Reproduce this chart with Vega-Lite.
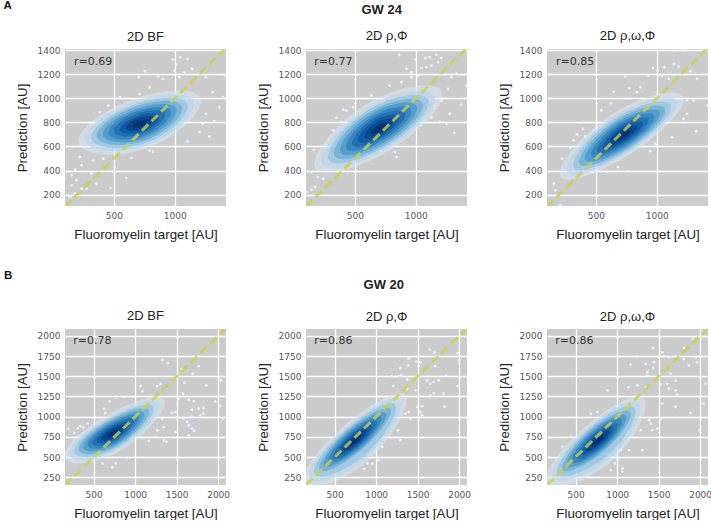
{
"$schema":"https://vega.github.io/schema/vega-lite/v6.json",
"padding":{"left":3,"top":0,"right":0,"bottom":0},
"background":"white",
"config":{
"view":{"fill":"#cbcbcb","stroke":null},
"axis":{"grid":true,"gridColor":"#ffffff","gridWidth":1.3,"domain":false,"ticks":false,"labelColor":"#555555","labelFont":"DejaVu Sans","labelFontSize":9,"labelPadding":5,"titleFont":"Liberation Sans","titleFontSize":13.3,"titleFontWeight":"normal","titleColor":"#222222","format":"d"},
"axisX":{"titlePadding":7},
"axisY":{"titlePadding":8},
"title":{"font":"Liberation Sans","fontSize":13,"fontWeight":"normal","color":"#222222","offset":3}
},
"datasets":{
"diagA":[{"x":100,"y":100},{"x":1420,"y":1420}],
"diagB":[{"x":155,"y":155},{"x":2095,"y":2095}],
"tA1":[{"x":173,"y":1300,"t":"r=0.69"}],
"tA2":[{"x":168,"y":1300,"t":"r=0.77"}],
"tA3":[{"x":174,"y":1300,"t":"r=0.85"}],
"tB1":[{"x":255,"y":1941,"t":"r=0.78"}],
"tB2":[{"x":255,"y":1941,"t":"r=0.86"}],
"tB3":[{"x":255,"y":1941,"t":"r=0.86"}],
"lA":[{"x":-405,"y":1767,"t":"A"}],
"lB":[{"x":-580,"y":2740,"t":"B"}],
"cA1":[
{"l":0,"i":0,"x":213,"y":624},{"l":0,"i":1,"x":639,"y":985},{"l":0,"i":2,"x":1211,"y":998},{"l":0,"i":3,"x":785,"y":590},
{"l":1,"i":0,"x":268,"y":642},{"l":1,"i":1,"x":647,"y":963},{"l":1,"i":2,"x":1156,"y":974},{"l":1,"i":3,"x":777,"y":612},
{"l":2,"i":0,"x":319,"y":659},{"l":2,"i":1,"x":654,"y":943},{"l":2,"i":2,"x":1105,"y":953},{"l":2,"i":3,"x":770,"y":632},
{"l":3,"i":0,"x":365,"y":674},{"l":3,"i":1,"x":661,"y":925},{"l":3,"i":2,"x":1059,"y":934},{"l":3,"i":3,"x":763,"y":651},
{"l":4,"i":0,"x":412,"y":689},{"l":4,"i":1,"x":668,"y":906},{"l":4,"i":2,"x":1012,"y":914},{"l":4,"i":3,"x":756,"y":669},
{"l":5,"i":0,"x":458,"y":704},{"l":5,"i":1,"x":675,"y":888},{"l":5,"i":2,"x":966,"y":895},{"l":5,"i":3,"x":749,"y":687},
{"l":6,"i":0,"x":504,"y":720},{"l":6,"i":1,"x":681,"y":870},{"l":6,"i":2,"x":920,"y":875},{"l":6,"i":3,"x":743,"y":706},
{"l":7,"i":0,"x":550,"y":735},{"l":7,"i":1,"x":688,"y":852},{"l":7,"i":2,"x":874,"y":856},{"l":7,"i":3,"x":736,"y":724},
{"l":8,"i":0,"x":596,"y":750},{"l":8,"i":1,"x":695,"y":834},{"l":8,"i":2,"x":828,"y":837},{"l":8,"i":3,"x":729,"y":742},
{"l":9,"i":0,"x":652,"y":768},{"l":9,"i":1,"x":703,"y":812},{"l":9,"i":2,"x":772,"y":813},{"l":9,"i":3,"x":721,"y":764}],
"cA2":[
{"l":0,"i":0,"x":176,"y":417},{"l":0,"i":1,"x":586,"y":943},{"l":0,"i":2,"x":1207,"y":1060},{"l":0,"i":3,"x":804,"y":579},
{"l":1,"i":0,"x":234,"y":454},{"l":1,"i":1,"x":598,"y":922},{"l":1,"i":2,"x":1150,"y":1026},{"l":1,"i":3,"x":792,"y":598},
{"l":2,"i":0,"x":288,"y":488},{"l":2,"i":1,"x":610,"y":902},{"l":2,"i":2,"x":1099,"y":994},{"l":2,"i":3,"x":782,"y":616},
{"l":3,"i":0,"x":336,"y":519},{"l":3,"i":1,"x":620,"y":884},{"l":3,"i":2,"x":1052,"y":965},{"l":3,"i":3,"x":772,"y":631},
{"l":4,"i":0,"x":385,"y":550},{"l":4,"i":1,"x":631,"y":866},{"l":4,"i":2,"x":1005,"y":937},{"l":4,"i":3,"x":762,"y":647},
{"l":5,"i":0,"x":433,"y":581},{"l":5,"i":1,"x":642,"y":848},{"l":5,"i":2,"x":958,"y":908},{"l":5,"i":3,"x":753,"y":663},
{"l":6,"i":0,"x":482,"y":611},{"l":6,"i":1,"x":652,"y":831},{"l":6,"i":2,"x":911,"y":879},{"l":6,"i":3,"x":743,"y":679},
{"l":7,"i":0,"x":530,"y":642},{"l":7,"i":1,"x":663,"y":813},{"l":7,"i":2,"x":864,"y":850},{"l":7,"i":3,"x":734,"y":695},
{"l":8,"i":0,"x":579,"y":673},{"l":8,"i":1,"x":673,"y":795},{"l":8,"i":2,"x":817,"y":822},{"l":8,"i":3,"x":724,"y":710},
{"l":9,"i":0,"x":637,"y":710},{"l":9,"i":1,"x":686,"y":773},{"l":9,"i":2,"x":761,"y":787},{"l":9,"i":3,"x":712,"y":729}],
"cA3":[
{"l":0,"i":0,"x":212,"y":347},{"l":0,"i":1,"x":617,"y":855},{"l":0,"i":2,"x":1216,"y":1019},{"l":0,"i":3,"x":811,"y":555},
{"l":1,"i":0,"x":269,"y":386},{"l":1,"i":1,"x":629,"y":837},{"l":1,"i":2,"x":1162,"y":983},{"l":1,"i":3,"x":802,"y":570},
{"l":2,"i":0,"x":321,"y":421},{"l":2,"i":1,"x":640,"y":821},{"l":2,"i":2,"x":1112,"y":950},{"l":2,"i":3,"x":793,"y":584},
{"l":3,"i":0,"x":369,"y":453},{"l":3,"i":1,"x":650,"y":806},{"l":3,"i":2,"x":1066,"y":920},{"l":3,"i":3,"x":785,"y":597},
{"l":4,"i":0,"x":416,"y":486},{"l":4,"i":1,"x":660,"y":791},{"l":4,"i":2,"x":1021,"y":890},{"l":4,"i":3,"x":777,"y":610},
{"l":5,"i":0,"x":464,"y":518},{"l":5,"i":1,"x":670,"y":776},{"l":5,"i":2,"x":975,"y":860},{"l":5,"i":3,"x":769,"y":623},
{"l":6,"i":0,"x":511,"y":550},{"l":6,"i":1,"x":680,"y":762},{"l":6,"i":2,"x":930,"y":830},{"l":6,"i":3,"x":761,"y":636},
{"l":7,"i":0,"x":559,"y":582},{"l":7,"i":1,"x":690,"y":747},{"l":7,"i":2,"x":884,"y":800},{"l":7,"i":3,"x":753,"y":649},
{"l":8,"i":0,"x":606,"y":614},{"l":8,"i":1,"x":700,"y":732},{"l":8,"i":2,"x":839,"y":770},{"l":8,"i":3,"x":745,"y":662},
{"l":9,"i":0,"x":663,"y":653},{"l":9,"i":1,"x":712,"y":714},{"l":9,"i":2,"x":784,"y":734},{"l":9,"i":3,"x":735,"y":678}],
"cB1":[
{"l":0,"i":0,"x":152,"y":481},{"l":0,"i":1,"x":616,"y":991},{"l":0,"i":2,"x":1352,"y":1213},{"l":0,"i":3,"x":839,"y":592},
{"l":1,"i":0,"x":216,"y":515},{"l":1,"i":1,"x":628,"y":969},{"l":1,"i":2,"x":1283,"y":1166},{"l":1,"i":3,"x":827,"y":614},
{"l":2,"i":0,"x":275,"y":547},{"l":2,"i":1,"x":639,"y":948},{"l":2,"i":2,"x":1219,"y":1123},{"l":2,"i":3,"x":815,"y":635},
{"l":3,"i":0,"x":328,"y":576},{"l":3,"i":1,"x":650,"y":930},{"l":3,"i":2,"x":1161,"y":1084},{"l":3,"i":3,"x":805,"y":653},
{"l":4,"i":0,"x":381,"y":604},{"l":4,"i":1,"x":660,"y":911},{"l":4,"i":2,"x":1103,"y":1045},{"l":4,"i":3,"x":795,"y":671},
{"l":5,"i":0,"x":434,"y":633},{"l":5,"i":1,"x":670,"y":893},{"l":5,"i":2,"x":1045,"y":1006},{"l":5,"i":3,"x":784,"y":690},
{"l":6,"i":0,"x":488,"y":662},{"l":6,"i":1,"x":681,"y":874},{"l":6,"i":2,"x":988,"y":967},{"l":6,"i":3,"x":774,"y":708},
{"l":7,"i":0,"x":541,"y":691},{"l":7,"i":1,"x":691,"y":856},{"l":7,"i":2,"x":930,"y":928},{"l":7,"i":3,"x":763,"y":727},
{"l":8,"i":0,"x":594,"y":719},{"l":8,"i":1,"x":701,"y":837},{"l":8,"i":2,"x":872,"y":889},{"l":8,"i":3,"x":753,"y":745},
{"l":9,"i":0,"x":658,"y":754},{"l":9,"i":1,"x":714,"y":815},{"l":9,"i":2,"x":802,"y":842},{"l":9,"i":3,"x":741,"y":767}],
"cB2":[
{"l":0,"i":0,"x":129,"y":178},{"l":0,"i":1,"x":610,"y":883},{"l":0,"i":2,"x":1360,"y":1264},{"l":0,"i":3,"x":880,"y":440},
{"l":1,"i":0,"x":198,"y":237},{"l":1,"i":1,"x":625,"y":864},{"l":1,"i":2,"x":1291,"y":1202},{"l":1,"i":3,"x":870,"y":480},
{"l":2,"i":0,"x":260,"y":291},{"l":2,"i":1,"x":639,"y":846},{"l":2,"i":2,"x":1229,"y":1146},{"l":2,"i":3,"x":860,"y":520},
{"l":3,"i":0,"x":317,"y":340},{"l":3,"i":1,"x":651,"y":830},{"l":3,"i":2,"x":1172,"y":1095},{"l":3,"i":3,"x":831,"y":597},
{"l":4,"i":0,"x":374,"y":390},{"l":4,"i":1,"x":664,"y":814},{"l":4,"i":2,"x":1115,"y":1043},{"l":4,"i":3,"x":820,"y":612},
{"l":5,"i":0,"x":431,"y":439},{"l":5,"i":1,"x":676,"y":798},{"l":5,"i":2,"x":1058,"y":992},{"l":5,"i":3,"x":808,"y":627},
{"l":6,"i":0,"x":488,"y":488},{"l":6,"i":1,"x":689,"y":782},{"l":6,"i":2,"x":1001,"y":941},{"l":6,"i":3,"x":797,"y":642},
{"l":7,"i":0,"x":545,"y":537},{"l":7,"i":1,"x":701,"y":766},{"l":7,"i":2,"x":944,"y":890},{"l":7,"i":3,"x":785,"y":657},
{"l":8,"i":0,"x":602,"y":587},{"l":8,"i":1,"x":714,"y":750},{"l":8,"i":2,"x":887,"y":838},{"l":8,"i":3,"x":774,"y":672},
{"l":9,"i":0,"x":671,"y":646},{"l":9,"i":1,"x":729,"y":731},{"l":9,"i":2,"x":819,"y":777},{"l":9,"i":3,"x":760,"y":690}],
"cB3":[
{"l":0,"i":0,"x":158,"y":178},{"l":0,"i":1,"x":624,"y":883},{"l":0,"i":2,"x":1325,"y":1219},{"l":0,"i":3,"x":930,"y":450},
{"l":1,"i":0,"x":226,"y":237},{"l":1,"i":1,"x":640,"y":863},{"l":1,"i":2,"x":1263,"y":1162},{"l":1,"i":3,"x":915,"y":490},
{"l":2,"i":0,"x":288,"y":290},{"l":2,"i":1,"x":655,"y":845},{"l":2,"i":2,"x":1207,"y":1110},{"l":2,"i":3,"x":895,"y":530},
{"l":3,"i":0,"x":345,"y":339},{"l":3,"i":1,"x":669,"y":829},{"l":3,"i":2,"x":1156,"y":1062},{"l":3,"i":3,"x":860,"y":592},
{"l":4,"i":0,"x":401,"y":388},{"l":4,"i":1,"x":682,"y":812},{"l":4,"i":2,"x":1104,"y":1014},{"l":4,"i":3,"x":848,"y":607},
{"l":5,"i":0,"x":458,"y":437},{"l":5,"i":1,"x":696,"y":796},{"l":5,"i":2,"x":1053,"y":967},{"l":5,"i":3,"x":836,"y":622},
{"l":6,"i":0,"x":515,"y":485},{"l":6,"i":1,"x":709,"y":779},{"l":6,"i":2,"x":1001,"y":919},{"l":6,"i":3,"x":824,"y":637},
{"l":7,"i":0,"x":572,"y":534},{"l":7,"i":1,"x":723,"y":763},{"l":7,"i":2,"x":950,"y":872},{"l":7,"i":3,"x":812,"y":652},
{"l":8,"i":0,"x":628,"y":583},{"l":8,"i":1,"x":736,"y":746},{"l":8,"i":2,"x":899,"y":824},{"l":8,"i":3,"x":800,"y":667},
{"l":9,"i":0,"x":696,"y":642},{"l":9,"i":1,"x":752,"y":726},{"l":9,"i":2,"x":837,"y":767},{"l":9,"i":3,"x":786,"y":685}],
"sA1":[{"x":1006,"y":1402},{"x":984,"y":1322},{"x":1044,"y":1341},{"x":1106,"y":1327},{"x":1011,"y":1280},{"x":756,"y":1225},{"x":704,"y":1175},{"x":862,"y":1183},{"x":998,"y":1230},{"x":1079,"y":1217},{"x":1142,"y":1244},{"x":1202,"y":1208},{"x":1256,"y":1175},{"x":1411,"y":1189},{"x":1310,"y":1051},{"x":1397,"y":1009},{"x":1365,"y":926},{"x":1324,"y":810},{"x":1283,"y":683},{"x":1106,"y":641},{"x":644,"y":503},{"x":603,"y":337},{"x":475,"y":254},{"x":358,"y":290},{"x":236,"y":442},{"x":182,"y":406},{"x":154,"y":359},{"x":195,"y":318},{"x":154,"y":276},{"x":236,"y":249},{"x":182,"y":207},{"x":141,"y":180},{"x":277,"y":249},{"x":318,"y":373},{"x":331,"y":484},{"x":222,"y":511},{"x":386,"y":885},{"x":454,"y":940},{"x":549,"y":1009},{"x":712,"y":1037},{"x":794,"y":1092},{"x":902,"y":1161},{"x":1038,"y":1175},{"x":1256,"y":871},{"x":1229,"y":788},{"x":1202,"y":719},{"x":821,"y":553},{"x":794,"y":567},{"x":508,"y":428},{"x":413,"y":498},{"x":304,"y":650}],
"sA2":[{"x":864,"y":1360},{"x":997,"y":1322},{"x":1079,"y":1335},{"x":1114,"y":1341},{"x":1169,"y":1363},{"x":1210,"y":1335},{"x":1183,"y":1300},{"x":1128,"y":1272},{"x":1087,"y":1258},{"x":1046,"y":1252},{"x":924,"y":1244},{"x":964,"y":1217},{"x":1333,"y":1203},{"x":1415,"y":1106},{"x":1292,"y":1175},{"x":1264,"y":1078},{"x":1210,"y":982},{"x":1278,"y":871},{"x":1373,"y":946},{"x":1314,"y":711},{"x":1251,"y":788},{"x":1196,"y":802},{"x":842,"y":511},{"x":828,"y":553},{"x":719,"y":567},{"x":433,"y":899},{"x":405,"y":907},{"x":487,"y":926},{"x":637,"y":1023},{"x":351,"y":838},{"x":787,"y":1106},{"x":883,"y":1134},{"x":392,"y":802},{"x":324,"y":733},{"x":165,"y":572},{"x":146,"y":387},{"x":119,"y":393},{"x":195,"y":346},{"x":242,"y":332},{"x":174,"y":263},{"x":146,"y":243},{"x":105,"y":221},{"x":1128,"y":843},{"x":1155,"y":940},{"x":964,"y":1175},{"x":1019,"y":1189}],
"sA3":[{"x":1226,"y":1402},{"x":1144,"y":1396},{"x":969,"y":1252},{"x":1007,"y":1230},{"x":1062,"y":1258},{"x":1139,"y":1286},{"x":1180,"y":1264},{"x":1275,"y":1225},{"x":1330,"y":1161},{"x":1417,"y":940},{"x":742,"y":1181},{"x":925,"y":1189},{"x":647,"y":1056},{"x":775,"y":1084},{"x":838,"y":1051},{"x":1303,"y":982},{"x":1248,"y":871},{"x":1220,"y":829},{"x":1322,"y":727},{"x":1125,"y":677},{"x":988,"y":622},{"x":947,"y":561},{"x":761,"y":395},{"x":682,"y":428},{"x":592,"y":387},{"x":469,"y":387},{"x":346,"y":699},{"x":395,"y":746},{"x":414,"y":683},{"x":545,"y":899},{"x":625,"y":959},{"x":319,"y":650},{"x":291,"y":589},{"x":223,"y":498},{"x":114,"y":193},{"x":168,"y":235},{"x":209,"y":111},{"x":155,"y":290},{"x":1043,"y":1189},{"x":1098,"y":1161},{"x":1248,"y":982},{"x":865,"y":1092}],
"sB1":[{"x":1330,"y":1703},{"x":1394,"y":1662},{"x":1558,"y":1592},{"x":1769,"y":1625},{"x":1693,"y":1531},{"x":1594,"y":1420},{"x":1857,"y":1387},{"x":2033,"y":1448},{"x":1306,"y":1407},{"x":1266,"y":1379},{"x":1066,"y":1379},{"x":1086,"y":1313},{"x":694,"y":1190},{"x":778,"y":1243},{"x":866,"y":1243},{"x":627,"y":1099},{"x":639,"y":1046},{"x":195,"y":849},{"x":267,"y":800},{"x":339,"y":882},{"x":379,"y":865},{"x":307,"y":853},{"x":427,"y":915},{"x":1965,"y":1190},{"x":2025,"y":1132},{"x":2057,"y":976},{"x":1825,"y":1108},{"x":1765,"y":1099},{"x":1685,"y":1087},{"x":1645,"y":1210},{"x":1705,"y":1190},{"x":1578,"y":1284},{"x":1526,"y":1223},{"x":1506,"y":1161},{"x":1486,"y":1058},{"x":1446,"y":1046},{"x":1825,"y":1038},{"x":1785,"y":1017},{"x":1685,"y":997},{"x":1625,"y":935},{"x":1645,"y":894},{"x":1685,"y":853},{"x":1713,"y":824},{"x":1578,"y":976},{"x":1486,"y":812},{"x":1346,"y":709},{"x":1378,"y":689},{"x":1246,"y":750},{"x":1166,"y":701},{"x":1645,"y":771},{"x":906,"y":492},{"x":726,"y":373},{"x":766,"y":422},{"x":607,"y":422},{"x":1346,"y":874},{"x":1266,"y":832},{"x":1326,"y":976}],
"sB2":[{"x":1645,"y":1830},{"x":1705,"y":1797},{"x":1985,"y":1785},{"x":2001,"y":1695},{"x":1394,"y":1723},{"x":1482,"y":1682},{"x":1534,"y":1674},{"x":1713,"y":1625},{"x":1294,"y":1600},{"x":1386,"y":1633},{"x":1514,"y":1625},{"x":1186,"y":1502},{"x":1274,"y":1502},{"x":1302,"y":1510},{"x":1374,"y":1457},{"x":1494,"y":1469},{"x":1845,"y":1510},{"x":1753,"y":1448},{"x":1693,"y":1428},{"x":1613,"y":1448},{"x":1653,"y":1407},{"x":1981,"y":1379},{"x":1813,"y":1284},{"x":1693,"y":1292},{"x":1653,"y":1264},{"x":1825,"y":1120},{"x":1494,"y":1120},{"x":1554,"y":1128},{"x":1534,"y":1058},{"x":1554,"y":1017},{"x":1414,"y":976},{"x":1294,"y":709},{"x":1262,"y":832},{"x":1206,"y":1379},{"x":1374,"y":1346},{"x":1474,"y":1325},{"x":1094,"y":750},{"x":1034,"y":689},{"x":1074,"y":627},{"x":1026,"y":463},{"x":954,"y":422},{"x":854,"y":352},{"x":894,"y":422},{"x":1354,"y":1038},{"x":1394,"y":1058}],
"sB3":[{"x":1432,"y":1851},{"x":1913,"y":1962},{"x":1805,"y":1851},{"x":1544,"y":1797},{"x":1564,"y":1748},{"x":1624,"y":1736},{"x":1725,"y":1736},{"x":1805,"y":1715},{"x":1945,"y":1728},{"x":1244,"y":1744},{"x":1164,"y":1645},{"x":1344,"y":1654},{"x":1444,"y":1674},{"x":1436,"y":1604},{"x":1865,"y":1633},{"x":1965,"y":1674},{"x":1364,"y":1551},{"x":1364,"y":1510},{"x":1644,"y":1531},{"x":1705,"y":1448},{"x":1524,"y":1399},{"x":1604,"y":1407},{"x":2065,"y":1407},{"x":1624,"y":1346},{"x":1705,"y":1325},{"x":1725,"y":1276},{"x":884,"y":1325},{"x":1136,"y":1366},{"x":1244,"y":1387},{"x":1344,"y":1366},{"x":1544,"y":1161},{"x":2045,"y":1161},{"x":1705,"y":1120},{"x":1885,"y":1046},{"x":1564,"y":989},{"x":1524,"y":976},{"x":1993,"y":832},{"x":1384,"y":956},{"x":1404,"y":915},{"x":1484,"y":853},{"x":1424,"y":832},{"x":1284,"y":832},{"x":1304,"y":586},{"x":1144,"y":586},{"x":1044,"y":586},{"x":1064,"y":360},{"x":1064,"y":319},{"x":924,"y":340},{"x":972,"y":422},{"x":764,"y":1058},{"x":684,"y":1038},{"x":443,"y":750},{"x":343,"y":627}]
},
"bounds":"flush",
"spacing":280,
"vconcat":[
{"title":{"text":"GW 24","fontWeight":"bold","fontSize":13,"anchor":"middle","offset":-17,"dx":26},"bounds":"flush","spacing":80,"hconcat":[
{"width":161,"height":157,"title":{"text":"2D BF","offset":-44},
"encoding":{"x":{"field":"x","type":"quantitative","title":"Fluoromyelin target [AU]","scale":{"domain":[100,1420],"nice":false,"zero":false},"axis":{"values":[500,1000]}},"y":{"field":"y","type":"quantitative","title":"Prediction [AU]","scale":{"domain":[105,1410],"nice":false,"zero":false},"axis":{"values":[200,400,600,800,1000,1200,1400]}}},
"layer":[
{"data":{"name":"sA1"},"mark":{"type":"point","filled":true,"size":8,"color":"#e6f0fa","opacity":1,"clip":true}},
{"data":{"name":"cA1"},"mark":{"type":"line","filled":true,"interpolate":"cardinal-closed","tension":-0.5,"clip":true},"encoding":{"order":{"field":"i"},"opacity":{"field":"l","type":"ordinal","legend":null,"scale":{"domain":[0,1,2,3,4,5,6,7,8,9],"range":[0.55,0.9,1,1,1,1,1,1,1,1]}},"color":{"field":"l","type":"ordinal","legend":null,"scale":{"domain":[0,1,2,3,4,5,6,7,8,9],"range":["#dbe9f6","#b5d4ea","#8cc0de","#65a9d4","#4595c8","#2f7fbb","#1c6bb0","#0e58a2","#084488","#08306b"]}}}},
{"data":{"name":"diagA"},"mark":{"type":"line","color":"#c9cf4f","opacity":0.8,"strokeWidth":3,"strokeDash":[9,4.5],"clip":true}},
{"data":{"name":"tA1"},"mark":{"type":"text","align":"left","baseline":"middle","font":"DejaVu Sans","fontSize":11,"color":"#333333"},"encoding":{"text":{"field":"t"}}},
{"data":{"name":"lA"},"mark":{"type":"text","align":"left","baseline":"middle","font":"Liberation Sans","fontSize":11.5,"fontWeight":"bold","color":"#111111"},"encoding":{"text":{"field":"t"}}}
]},
{"width":161,"height":157,"title":"2D ρ,Φ",
"encoding":{"x":{"field":"x","type":"quantitative","title":"Fluoromyelin target [AU]","scale":{"domain":[100,1420],"nice":false,"zero":false},"axis":{"values":[500,1000]}},"y":{"field":"y","type":"quantitative","title":"Prediction [AU]","scale":{"domain":[105,1410],"nice":false,"zero":false},"axis":{"values":[200,400,600,800,1000,1200,1400]}}},
"layer":[
{"data":{"name":"sA2"},"mark":{"type":"point","filled":true,"size":8,"color":"#e6f0fa","opacity":1,"clip":true}},
{"data":{"name":"cA2"},"mark":{"type":"line","filled":true,"interpolate":"cardinal-closed","tension":-0.5,"clip":true},"encoding":{"order":{"field":"i"},"opacity":{"field":"l","type":"ordinal","legend":null,"scale":{"domain":[0,1,2,3,4,5,6,7,8,9],"range":[0.55,0.9,1,1,1,1,1,1,1,1]}},"color":{"field":"l","type":"ordinal","legend":null,"scale":{"domain":[0,1,2,3,4,5,6,7,8,9],"range":["#dbe9f6","#b5d4ea","#8cc0de","#65a9d4","#4595c8","#2f7fbb","#1c6bb0","#0e58a2","#084488","#08306b"]}}}},
{"data":{"name":"diagA"},"mark":{"type":"line","color":"#c9cf4f","opacity":0.8,"strokeWidth":3,"strokeDash":[9,4.5],"clip":true}},
{"data":{"name":"tA2"},"mark":{"type":"text","align":"left","baseline":"middle","font":"DejaVu Sans","fontSize":11,"color":"#333333"},"encoding":{"text":{"field":"t"}}}
]},
{"width":161,"height":157,"title":"2D ρ,ω,Φ",
"encoding":{"x":{"field":"x","type":"quantitative","title":"Fluoromyelin target [AU]","scale":{"domain":[100,1420],"nice":false,"zero":false},"axis":{"values":[500,1000]}},"y":{"field":"y","type":"quantitative","title":"Prediction [AU]","scale":{"domain":[105,1410],"nice":false,"zero":false},"axis":{"values":[200,400,600,800,1000,1200,1400]}}},
"layer":[
{"data":{"name":"sA3"},"mark":{"type":"point","filled":true,"size":8,"color":"#e6f0fa","opacity":1,"clip":true}},
{"data":{"name":"cA3"},"mark":{"type":"line","filled":true,"interpolate":"cardinal-closed","tension":-0.5,"clip":true},"encoding":{"order":{"field":"i"},"opacity":{"field":"l","type":"ordinal","legend":null,"scale":{"domain":[0,1,2,3,4,5,6,7,8,9],"range":[0.55,0.9,1,1,1,1,1,1,1,1]}},"color":{"field":"l","type":"ordinal","legend":null,"scale":{"domain":[0,1,2,3,4,5,6,7,8,9],"range":["#dbe9f6","#b5d4ea","#8cc0de","#65a9d4","#4595c8","#2f7fbb","#1c6bb0","#0e58a2","#084488","#08306b"]}}}},
{"data":{"name":"diagA"},"mark":{"type":"line","color":"#c9cf4f","opacity":0.8,"strokeWidth":3,"strokeDash":[9,4.5],"clip":true}},
{"data":{"name":"tA3"},"mark":{"type":"text","align":"left","baseline":"middle","font":"DejaVu Sans","fontSize":11,"color":"#333333"},"encoding":{"text":{"field":"t"}}}
]}
]},
{"title":{"text":"GW 20","fontWeight":"bold","fontSize":13,"anchor":"middle","offset":-22,"dx":26},"bounds":"flush","spacing":80,"hconcat":[
{"width":161,"height":156,"title":{"text":"2D BF","offset":-53},
"encoding":{"x":{"field":"x","type":"quantitative","title":"Fluoromyelin target [AU]","scale":{"domain":[155,2095],"nice":false,"zero":false},"axis":{"values":[500,1000,1500,2000]}},"y":{"field":"y","type":"quantitative","title":"Prediction [AU]","scale":{"domain":[155,2085],"nice":false,"zero":false},"axis":{"values":[250,500,750,1000,1250,1500,1750,2000]}}},
"layer":[
{"data":{"name":"sB1"},"mark":{"type":"point","filled":true,"size":8,"color":"#e6f0fa","opacity":1,"clip":true}},
{"data":{"name":"cB1"},"mark":{"type":"line","filled":true,"interpolate":"cardinal-closed","tension":-0.5,"clip":true},"encoding":{"order":{"field":"i"},"opacity":{"field":"l","type":"ordinal","legend":null,"scale":{"domain":[0,1,2,3,4,5,6,7,8,9],"range":[0.55,0.9,1,1,1,1,1,1,1,1]}},"color":{"field":"l","type":"ordinal","legend":null,"scale":{"domain":[0,1,2,3,4,5,6,7,8,9],"range":["#dbe9f6","#b5d4ea","#8cc0de","#65a9d4","#4595c8","#2f7fbb","#1c6bb0","#0e58a2","#084488","#08306b"]}}}},
{"data":{"name":"diagB"},"mark":{"type":"line","color":"#c9cf4f","opacity":0.8,"strokeWidth":3,"strokeDash":[9,4.5],"clip":true}},
{"data":{"name":"tB1"},"mark":{"type":"text","align":"left","baseline":"middle","font":"DejaVu Sans","fontSize":11,"color":"#333333"},"encoding":{"text":{"field":"t"}}},
{"data":{"name":"lB"},"mark":{"type":"text","align":"left","baseline":"middle","font":"Liberation Sans","fontSize":11.5,"fontWeight":"bold","color":"#111111"},"encoding":{"text":{"field":"t"}}}
]},
{"width":161,"height":156,"title":{"text":"2D ρ,Φ","offset":5},
"encoding":{"x":{"field":"x","type":"quantitative","title":"Fluoromyelin target [AU]","scale":{"domain":[155,2095],"nice":false,"zero":false},"axis":{"values":[500,1000,1500,2000]}},"y":{"field":"y","type":"quantitative","title":"Prediction [AU]","scale":{"domain":[155,2085],"nice":false,"zero":false},"axis":{"values":[250,500,750,1000,1250,1500,1750,2000]}}},
"layer":[
{"data":{"name":"sB2"},"mark":{"type":"point","filled":true,"size":8,"color":"#e6f0fa","opacity":1,"clip":true}},
{"data":{"name":"cB2"},"mark":{"type":"line","filled":true,"interpolate":"cardinal-closed","tension":-0.5,"clip":true},"encoding":{"order":{"field":"i"},"opacity":{"field":"l","type":"ordinal","legend":null,"scale":{"domain":[0,1,2,3,4,5,6,7,8,9],"range":[0.55,0.9,1,1,1,1,1,1,1,1]}},"color":{"field":"l","type":"ordinal","legend":null,"scale":{"domain":[0,1,2,3,4,5,6,7,8,9],"range":["#dbe9f6","#b5d4ea","#8cc0de","#65a9d4","#4595c8","#2f7fbb","#1c6bb0","#0e58a2","#084488","#08306b"]}}}},
{"data":{"name":"diagB"},"mark":{"type":"line","color":"#c9cf4f","opacity":0.8,"strokeWidth":3,"strokeDash":[9,4.5],"clip":true}},
{"data":{"name":"tB2"},"mark":{"type":"text","align":"left","baseline":"middle","font":"DejaVu Sans","fontSize":11,"color":"#333333"},"encoding":{"text":{"field":"t"}}}
]},
{"width":161,"height":156,"title":{"text":"2D ρ,ω,Φ","offset":5},
"encoding":{"x":{"field":"x","type":"quantitative","title":"Fluoromyelin target [AU]","scale":{"domain":[155,2095],"nice":false,"zero":false},"axis":{"values":[500,1000,1500,2000]}},"y":{"field":"y","type":"quantitative","title":"Prediction [AU]","scale":{"domain":[155,2085],"nice":false,"zero":false},"axis":{"values":[250,500,750,1000,1250,1500,1750,2000]}}},
"layer":[
{"data":{"name":"sB3"},"mark":{"type":"point","filled":true,"size":8,"color":"#e6f0fa","opacity":1,"clip":true}},
{"data":{"name":"cB3"},"mark":{"type":"line","filled":true,"interpolate":"cardinal-closed","tension":-0.5,"clip":true},"encoding":{"order":{"field":"i"},"opacity":{"field":"l","type":"ordinal","legend":null,"scale":{"domain":[0,1,2,3,4,5,6,7,8,9],"range":[0.55,0.9,1,1,1,1,1,1,1,1]}},"color":{"field":"l","type":"ordinal","legend":null,"scale":{"domain":[0,1,2,3,4,5,6,7,8,9],"range":["#dbe9f6","#b5d4ea","#8cc0de","#65a9d4","#4595c8","#2f7fbb","#1c6bb0","#0e58a2","#084488","#08306b"]}}}},
{"data":{"name":"diagB"},"mark":{"type":"line","color":"#c9cf4f","opacity":0.8,"strokeWidth":3,"strokeDash":[9,4.5],"clip":true}},
{"data":{"name":"tB3"},"mark":{"type":"text","align":"left","baseline":"middle","font":"DejaVu Sans","fontSize":11,"color":"#333333"},"encoding":{"text":{"field":"t"}}}
]}
]}
]
}
